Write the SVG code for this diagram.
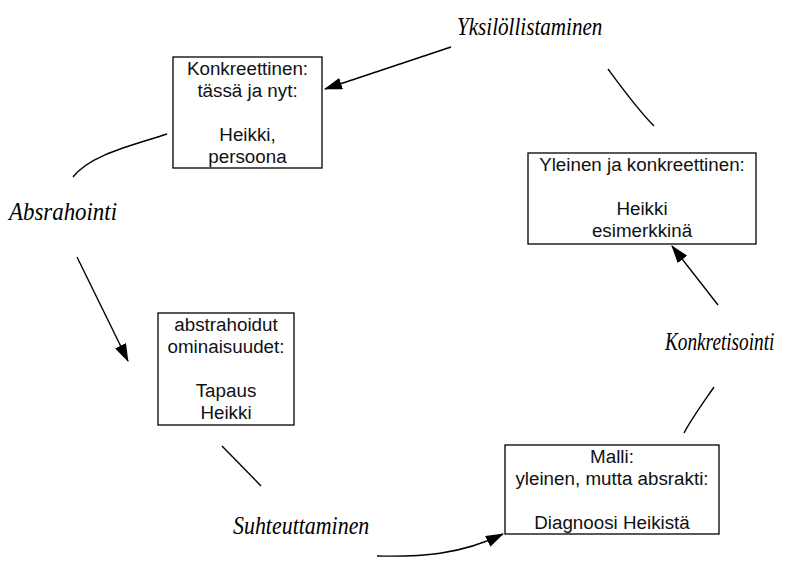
<svg xmlns="http://www.w3.org/2000/svg" width="792" height="561" viewBox="0 0 792 561">
<defs>
<style>
.box{fill:#fff;stroke:#000;stroke-width:1.3}
.t{font-family:"Liberation Sans",Arial,sans-serif;font-size:18.8px;fill:#111;text-anchor:middle}
.h{font-family:"Liberation Serif","DejaVu Serif",serif;font-style:italic;font-size:25px;fill:#000}
.c{fill:none;stroke:#000;stroke-width:1.4}
</style>
<marker id="arr" viewBox="0 0 18 12" refX="17" refY="6" markerWidth="18" markerHeight="12" markerUnits="userSpaceOnUse" orient="auto">
<path d="M0,0 L18,6 L0,12 z" fill="#000"/>
</marker>
</defs>
<rect width="792" height="561" fill="#fff"/>
<g id="connectors">
<path class="c" d="M451,47 L325,89" marker-end="url(#arr)"/>
<path class="c" d="M608,69 C622,88 638,110 654,126"/>
<path class="c" d="M167,134 C130,146 90,155 73,177"/>
<path class="c" d="M77,257 L128,361" marker-end="url(#arr)"/>
<path class="c" d="M222,446 L261,486"/>
<path class="c" d="M377,556 C420,557 460,555 503,534" marker-end="url(#arr)"/>
<path class="c" d="M684,433 C692,418 703,403 714,387"/>
<path class="c" d="M718,305 L672,246" marker-end="url(#arr)"/>
</g>
<g id="node-konkreettinen">
<rect class="box" x="173" y="57" width="149" height="111"/>
<text class="t" x="247.5" y="75">Konkreettinen:</text>
<text class="t" x="247.5" y="97">tässä ja nyt:</text>
<text class="t" x="247.5" y="141">Heikki,</text>
<text class="t" x="247.5" y="163">persoona</text>
</g>
<g id="node-yleinen">
<rect class="box" x="528" y="153" width="228" height="91"/>
<text class="t" x="642" y="171">Yleinen ja konkreettinen:</text>
<text class="t" x="642" y="215">Heikki</text>
<text class="t" x="642" y="237">esimerkkinä</text>
</g>
<g id="node-abstrahoidut">
<rect class="box" x="158" y="313" width="136" height="112"/>
<text class="t" x="226" y="331">abstrahoidut</text>
<text class="t" x="226" y="353">ominaisuudet:</text>
<text class="t" x="226" y="397">Tapaus</text>
<text class="t" x="226" y="419">Heikki</text>
</g>
<g id="node-malli">
<rect class="box" x="505" y="445" width="214" height="89"/>
<text class="t" x="612" y="463">Malli:</text>
<text class="t" x="612" y="485">yleinen, mutta absrakti:</text>
<text class="t" x="612" y="529">Diagnoosi Heikistä</text>
</g>
<g id="label-yksilollistaminen">
<text class="h" transform="translate(457,35) scale(0.845,1)">Yksilöllistaminen</text>
</g>
<g id="label-absrahointi">
<text class="h" transform="translate(9,220) scale(0.915,1)">Absrahointi</text>
</g>
<g id="label-suhteuttaminen">
<text class="h" transform="translate(233,534) scale(0.877,1)">Suhteuttaminen</text>
</g>
<g id="label-konkretisointi">
<text class="h" transform="translate(665,350) scale(0.77,1)">Konkretisointi</text>
</g>
</svg>
